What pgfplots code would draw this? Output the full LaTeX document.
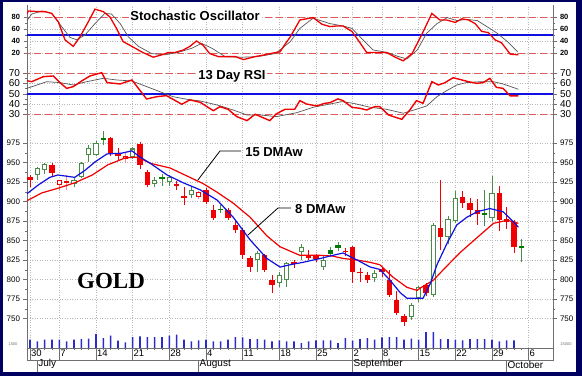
\documentclass[border=0pt]{standalone}
\usepackage{pgfplots}
\pgfplotsset{compat=1.18}
\usepackage{pgfplotstable}
\usepackage{fontspec}
\setmainfont{Liberation Sans}
\newfontfamily\goldfont{Liberation Serif}
\definecolor{navy}{HTML}{000060}
\definecolor{cred}{HTML}{F00000}
\definecolor{lred}{HTML}{E05A5A}
\definecolor{pinkw}{HTML}{F08A8A}
\definecolor{hgreen}{HTML}{4A8C4A}
\definecolor{fgreen}{HTML}{007A00}
\definecolor{mblue}{HTML}{1010E0}
\definecolor{vblue}{HTML}{2B2BC8}
\definecolor{dgray}{HTML}{707070}
\definecolor{sgray}{HTML}{555555}
\definecolor{gridc}{HTML}{B8B8B8}

% candles: x = trading day index (0 = 30 Jun), body lo/hi, wick lo/hi
\pgfplotstableread{
x lo hi wl wh
0 928 931 918 934
3 937 947 933 950
11 961 981 958 983
12 958 962 952 968
15 947 974 942 976
16 921 938 918 940
20 920 923 915 926
21 905 907 896 919
24 899 915 897 917
25 879 889 876 896
27 879 889 876 892
28 863 870 860 876
29 831 863 826 866
30 816 828 810 830
32 812 831 810 833
33 793 799 783 806
36 820 822 815 825
38 828 831 825 838
39 826 830 823 833
43 835 837 830 840
44 810 842 796 843
45 808 810 797 815
46 799 806 796 810
48 810 813 803 816
49 780 799 778 812
50 757 774 754 785
51 746 753 741 756
54 783 793 779 796
56 855 866 838 927
59 898 906 892 913
60 889 898 880 905
61 884 889 870 903
64 876 911 862 920
65 874 878 865 893
66 842 874 834 876
}\FRtab
\pgfplotstableread{
x lo hi wl wh
4 921 927 915 928
5 924 926 915 934
13 955 958 950 962
23 906 912 903 914
}\HRtab
\pgfplotstableread{
x lo hi wl wh
1 934 943 927 944
2 940 948 935 950
6 922 927 918 930
7 932 949 930 951
8 960 969 951 972
9 960 975 958 977
14 957 968 955 970
17 923 928 918 932
19 925 931 920 934
22 908 915 905 918
31 825 834 810 836
34 795 806 790 810
35 799 821 790 823
37 835 842 825 846
40 816 825 812 830
47 802 808 797 812
52 752 767 748 770
53 776 790 771 792
55 780 870 778 873
57 855 878 846 882
58 875 904 872 914
63 879 911 875 933
}\HGtab
\pgfplotstableread{
x lo hi wl wh
10 979 982 972 991
18 929 931 920 935
26 889 891 885 895
41 833 838 830 842
42 840 844 836 848
62 883 885 868 915
67 841 843 822 852
}\FGtab
\pgfplotstableread{
x v
0 8.3
1 6.7
2 8.3
3 8.3
4 8.3
5 6.7
6 8.3
7 9
8 9.3
9 14
10 10
11 12.3
12 7.3
13 5.7
14 11
15 11.7
16 11
17 11
18 11
19 12.3
20 13.3
21 8.3
22 6.7
23 7.7
24 8.3
25 6.7
26 6.7
27 8.3
28 11
29 10.7
30 9
31 9
32 8.3
33 6.7
34 7.7
35 6.7
36 6.7
37 5
38 6.7
39 7.7
40 7.7
41 7.7
42 5
43 10
44 7.3
45 9
46 10
47 8.3
48 10.7
49 11
50 11
51 8.3
52 9.3
53 8.3
54 16
55 16
56 9
57 9
58 8.3
59 7.7
60 9
61 9
62 9
63 8.3
64 6.7
65 7.7
66 7.7
}\VOLtab

\pgfplotsset{
  wick/.style={draw=none, mark=none, forget plot,
    error bars/y dir=plus, error bars/y explicit, error bars/error mark=none,
    error bars/error bar style={line width=0.8pt, draw=#1, solid}},
  body/.style={draw=none, mark=none, forget plot,
    error bars/y dir=plus, error bars/y explicit, error bars/error mark=none,
    error bars/error bar style={line width=5.6pt, draw=#1, solid}},
  inner/.style={draw=none, mark=none, forget plot,
    error bars/y dir=plus, error bars/y explicit, error bars/error mark=none,
    error bars/error bar style={line width=3.6pt, draw=white, solid}},
  base/.style={scale only axis, width=526pt, xmin=-0.409, xmax=71.32, anchor=south west},
  panelL/.style={base, axis x line*=bottom, axis y line*=left,
    x axis line style={draw=none},
    xtick={0,4,9,14,19,24,29,34,39,44,48,53,58,63,68}, xticklabels={},
    xmajorticks=false, xmajorgrids, ymajorgrids,
    grid style={gridc, dash pattern=on 1pt off 1.5pt, line width=0.5pt},
    tick align=outside, y axis line style={draw=dgray, line width=0.7pt},
    ytick style={dgray, line width=0.5pt},
    major tick length=3.5pt, minor tick length=2pt,
    yticklabel style={text=black},
    /pgf/number format/assume math mode=true},
  panelR/.style={base, axis x line=none, axis y line*=right,
    tick align=outside, y axis line style={draw=dgray, line width=0.7pt},
    ytick style={dgray, line width=0.5pt},
    major tick length=3.5pt, minor tick length=2pt,
    yticklabel style={text=black},
    /pgf/number format/assume math mode=true},
}
\newcommand\candles[3]{%
  \addplot[wick=#2] table[x=x, y=wl, y error plus expr=\thisrow{wh}-\thisrow{wl}] {#1};
  \addplot[body=#3] table[x=x, y=lo, y error plus expr=\thisrow{hi}-\thisrow{lo}] {#1};
}
\newcommand\hollow[1]{%
  \addplot[inner] table[x=x, y expr=\thisrow{lo}+1.3, y error plus expr={max(\thisrow{hi}-\thisrow{lo}-2.6,0)}] {#1};
}

\begin{document}
\begin{tikzpicture}[x=1pt,y=1pt]
\useasboundingbox (0,0) rectangle (582,376);
\fill[navy] (0,0) rectangle (582,376);
\fill[white] (3,4.5) rectangle (576,373.5);

% ---------------- Stochastic ----------------
\begin{axis}[panelL, at={(27pt,311pt)}, height=60pt, ymin=0, ymax=100,
  ytick={20,40,60,80}, minor y tick num=1,
  yticklabel style={font=\fontsize{7.5}{8}\selectfont\bfseries}]
\addplot[lred, line width=0.9pt, dash pattern=on 7pt off 4pt] coordinates {(-1,80)(72,80)};
\addplot[lred, line width=0.9pt, dash pattern=on 7pt off 4pt] coordinates {(-1,20)(72,20)};
\addplot[mblue, line width=1.5pt] coordinates {(-1,50)(72,50)};
\addplot[sgray, line width=0.7pt] coordinates {
(-0.41,74)(0.23,85)(1.6,90)(2.96,86)(4.32,64)(5.45,46)(6.37,42)(7.5,50)(8.86,69)(10.2,86)
(11.1,85)(12.3,69)(13.4,47)(14.8,31)(16.6,19)(18.4,17)(20.2,21)(22.1,28)(23.4,36)(24.8,28)
(26.6,14)(28.9,13)(31.1,14)(33.4,19)(34.1,25)(35.5,39)(36.8,61)(38.6,78)(40.9,69)(42.7,65)
(43.9,61)(45.4,42)(46.8,25)(48.7,21)(50.0,15)(51.4,10)(52.8,25)(54.1,53)(55.5,69)(56.9,79)
(58.2,74)(59.6,76)(61.0,74)(62.3,64)(63.7,53)(65.1,39)(66.5,22)};
\addplot[cred, line width=1.3pt] coordinates {
(-0.41,85)(-0.23,90)(1.13,89)(2.05,89)(2.96,86)(3.86,72)(4.77,42)(5.9,31)(6.82,47)(7.95,72)
(8.86,93)(10.0,89)(10.9,80)(11.8,61)(12.7,39)(13.9,31)(15.2,22)(16.8,13)(18.0,17)(18.9,21)
(19.8,21)(20.9,25)(21.8,31)(22.7,40)(23.6,33)(24.5,19)(25.7,14)(26.6,14)(28.0,14)(29.1,9)
(30.7,14)(32.0,17)(33.6,21)(34.1,22)(34.8,35)(35.5,47)(36.8,75)(38.6,79)(39.8,68)(40.9,64)
(41.8,65)(42.7,65)(43.9,56)(45.0,37)(45.9,21)(47.3,21)(48.6,21)(49.8,13)(50.9,7)(52.1,19)
(53.4,50)(54.8,86)(55.9,75)(56.8,75)(58.0,71)(58.9,77)(59.8,75)(60.7,69)(61.6,56)(62.5,54)
(63.4,42)(64.3,37)(65.5,18)(66.6,17)};
\node[fill=white, inner sep=1.5pt, font=\fontsize{13}{13}\selectfont\bfseries] at (axis cs:22.5,81.7) {Stochastic Oscillator};
\end{axis}
\begin{axis}[panelR, at={(27pt,311pt)}, height=60pt, ymin=0, ymax=100,
  ytick={20,40,60,80}, minor y tick num=1,
  yticklabel style={font=\fontsize{7.5}{8}\selectfont\bfseries}]
\addplot[draw=none, forget plot] coordinates {(0,50)};
\end{axis}

% ---------------- RSI ----------------
\begin{axis}[panelL, at={(27pt,252pt)}, height=59pt, ymin=20.5, ymax=78.1,
  ytick={30,40,50,60,70}, minor y tick num=1,
  yticklabel style={font=\fontsize{10}{10}\selectfont}]
\addplot[lred, line width=0.9pt, dash pattern=on 7pt off 4pt] coordinates {(-1,70)(72,70)};
\addplot[lred, line width=0.9pt, dash pattern=on 7pt off 4pt] coordinates {(-1,30)(72,30)};
\addplot[mblue, line width=1.5pt] coordinates {(-1,50)(72,50)};
\addplot[sgray, line width=0.7pt] coordinates {
(-0.41,55.3)(2.28,61.8)(4.09,60.9)(5.9,58.6)(7.73,61.8)(10.0,65.1)(11.8,63.5)(13.9,62.5)
(15.9,57)(17.7,52.1)(19.5,47.2)(21.4,44.6)(23.2,43)(25.5,39.1)(27.7,34.2)(29.6,29.3)
(31.4,29.3)(33.6,27.7)(36.4,31.6)(38.6,36.8)(40.9,40)(42.5,42.3)(44.1,40.7)(46.4,36.8)
(48.6,34.9)(50.9,31)(52.7,34.9)(54.1,38.1)(55.5,47.2)(56.8,53)(58.2,58.6)(59.5,60.9)
(61.4,61.8)(63.2,61.8)(64.5,59.6)(66.6,54.4)};
\addplot[cred, line width=1.4pt] coordinates {
(-0.41,62.8)(0.23,61.8)(1.81,66.7)(3.18,67.4)(4.09,60.9)(5.0,55.3)(5.9,57)(7.27,63.5)
(8.18,67.4)(9.78,70.6)(10.5,60.9)(12.3,59.6)(13.9,63.5)(15.9,44.9)(17.3,47.2)(18.6,48.2)
(20.7,39.8)(21.8,44)(23.2,41.7)(25.0,33.5)(25.9,37.4)(27.0,34.9)(28.2,27.7)(29.6,23.8)
(30.7,30)(32.7,23.8)(33.6,30.5)(34.8,34.9)(36.1,34.9)(36.8,43.3)(37.7,40)(39.1,38.1)
(40.2,40.7)(40.9,41.3)(42.0,45)(42.7,43.3)(43.9,36.8)(45.0,35.8)(45.9,34.2)(47.0,37.4)
(47.7,37.4)(48.9,29.3)(49.8,27.1)(50.7,25.1)(51.8,34.2)(52.7,43.3)(53.6,40.7)(54.8,61.8)
(55.7,58.6)(56.6,60.9)(57.7,65.7)(58.9,63.5)(59.8,61.8)(60.9,60.2)(61.8,60.9)(62.7,65.1)
(63.6,56.3)(64.5,55.3)(65.5,47.9)(66.6,47.9)};
\node[fill=white, inner sep=1.5pt, font=\fontsize{13}{13}\selectfont\bfseries] at (axis cs:27.55,67.4) {13 Day RSI};
\end{axis}
\begin{axis}[panelR, at={(27pt,252pt)}, height=59pt, ymin=20.5, ymax=78.1,
  ytick={30,40,50,60,70}, minor y tick num=1,
  yticklabel style={font=\fontsize{10}{10}\selectfont}]
\addplot[draw=none, forget plot] coordinates {(0,50)};
\end{axis}

% ---------------- Price ----------------
\begin{axis}[panelL, at={(27pt,28pt)}, height=224pt, ymin=712.2, ymax=999.4,
  ytick={750,775,800,825,850,875,900,925,950,975}, minor y tick num=1,
  x axis line style={draw=dgray, line width=0.7pt},
  minor xtick={0,1,...,67}, minor x tick style={dgray, line width=0.5pt},
  yticklabel style={font=\fontsize{8}{8}\selectfont}]
\candles{\FRtab}{cred}{cred}
\candles{\HRtab}{pinkw}{cred}
\hollow{\HRtab}
\candles{\HGtab}{hgreen}{hgreen}
\hollow{\HGtab}
\candles{\FGtab}{hgreen}{fgreen}
\addplot[cred, line width=1.2pt] coordinates {
(-0.41,901)(1.6,911)(3.8,917)(6.1,924)(8.5,934)(10.6,947)(13.0,956)(14.7,957)(16.4,949)
(19.1,943)(21.8,931)(23.6,923)(25.5,912)(27.7,898)(30.0,880)(32.3,856)(34.1,842)(36.8,831)
(39.6,831)(41.3,830)(42.7,827)(44.6,825)(46.4,822)(47.7,819)(49.5,803)(51.4,790)(52.8,786)
(53.2,789)(55.0,799)(56.3,812)(58.7,835)(61.0,854)(63.2,872)(65.1,876)(66.6,872)};
\addplot[mblue, line width=1.2pt] coordinates {
(-0.41,910)(1.1,921)(2.7,931)(3.8,934)(6.1,931)(7.5,940)(8.9,951)(10.5,961)(12.5,962)
(13.9,965)(15.0,957)(16.4,949)(18.7,934)(20.9,924)(23.2,915)(25.5,902)(27.7,880)(30.0,851)
(32.3,827)(34.1,816)(35.5,819)(37.2,822)(39.6,827)(41.3,831)(42.7,834)(44.6,825)(46.4,816)
(47.7,813)(49.1,799)(50.5,783)(51.4,776)(52.8,776)(53.6,776)(54.6,795)(55.5,819)(56.9,847)
(58.2,870)(59.6,880)(61.0,887)(62.7,891)(64.5,887)(65.7,876)(66.6,867)};
\draw[black, line width=0.8pt] (axis cs:28.8,964.7) -- (axis cs:25.9,964.7) -- (axis cs:22.9,927.6);
\node[anchor=west, inner sep=0pt, font=\fontsize{13}{13}\selectfont\bfseries] at (axis cs:29.33,963.8) {15 DMAw};
\draw[black, line width=0.8pt] (axis cs:35.6,891.7) -- (axis cs:33.82,891.7) -- (axis cs:29.73,857.1);
\node[anchor=west, inner sep=0pt, font=\fontsize{13}{13}\selectfont\bfseries] at (axis cs:36.14,890.6) {8 DMAw};
\node[font=\goldfont\bfseries\fontsize{23}{23}\selectfont] at (axis cs:11.05,798) {GOLD};
\end{axis}
\begin{axis}[panelR, at={(27pt,28pt)}, height=224pt, ymin=712.2, ymax=999.4,
  ytick={750,775,800,825,850,875,900,925,950,975}, minor y tick num=1,
  yticklabel style={font=\fontsize{8}{8}\selectfont}]
\addplot[draw=none, forget plot] coordinates {(0,800)};
\end{axis}

% ---------------- Volume ----------------
\begin{axis}[base, at={(27pt,28pt)}, height=224pt, ymin=0, ymax=224, axis lines=none, ybar, bar width=1.6pt]
\addplot[fill=vblue, draw=none] table[x=x, y=v] {\VOLtab};
\end{axis}

% ---------------- Date rows ----------------
\begin{axis}[base, at={(27pt,16pt)}, height=12pt, ymin=0, ymax=1,
  xtick={0,4,9,14,19,24,29,34,39,44,48,53,58,63,68},
  xticklabels={30,7,14,21,28,4,11,18,25,2,8,15,22,29,6},
  xtick pos=left, xtick align=inside, major tick length=12pt, ytick=\empty,
  axis line style={dgray, line width=0.6pt}, tick style={dgray, line width=0.6pt},
  xticklabel style={anchor=south west, xshift=-2.5pt, yshift=-0.5pt, font=\fontsize{9.5}{9.5}\selectfont, text=black}]
\addplot[draw=none, forget plot] coordinates {(0,0.5)};
\end{axis}
\begin{axis}[base, at={(27pt,4.5pt)}, height=11.5pt, ymin=0, ymax=1,
  xtick={1,23,44,65}, xticklabels={July,August,September,October},
  xtick pos=left, xtick align=inside, major tick length=11.5pt, ytick=\empty,
  axis line style={draw=none}, tick style={dgray, line width=0.6pt},
  xticklabel style={anchor=south west, xshift=-2.5pt, yshift=-1pt, font=\fontsize{10}{10}\selectfont, text=black}]
\addplot[draw=none, forget plot] coordinates {(0,0.5)};
\end{axis}

\node[font=\fontsize{4}{4}\selectfont, text=dgray] at (13,32) {1500};
\node[font=\fontsize{4}{4}\selectfont, text=dgray] at (566,32) {15000};
\end{tikzpicture}
\end{document}
